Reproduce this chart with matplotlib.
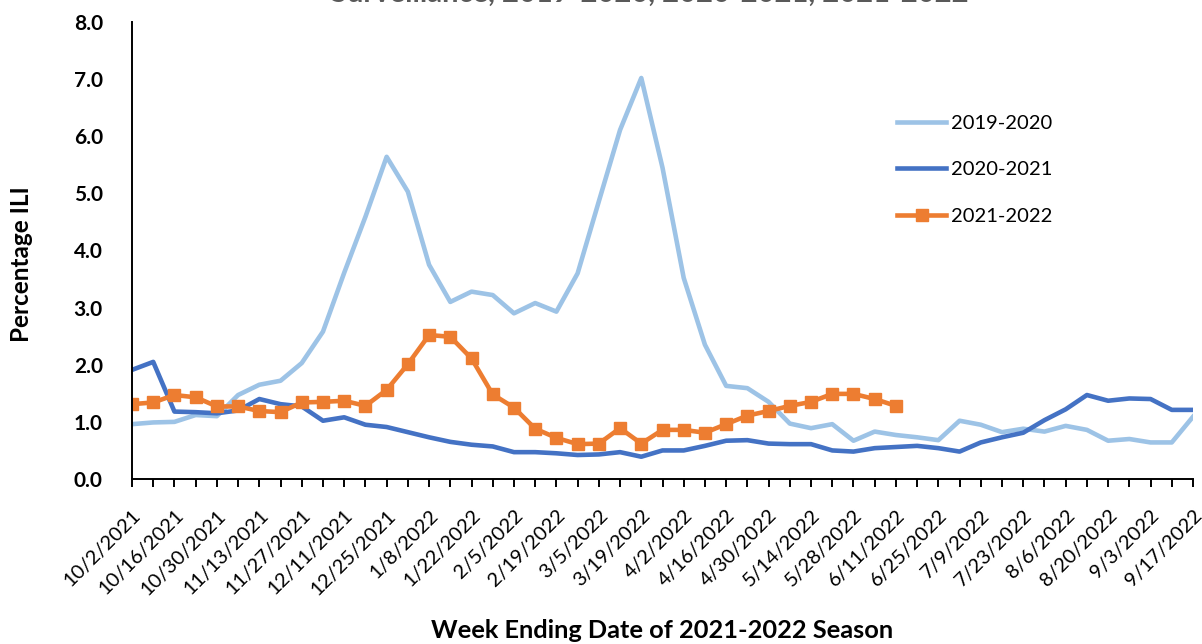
import matplotlib
matplotlib.use("Agg")
import matplotlib.pyplot as plt

plt.rcParams['font.family'] = ['Lato', 'DejaVu Sans']

# labelled week-ending dates (every second week)
date_labels = ["10/2/2021", "10/16/2021", "10/30/2021", "11/13/2021", "11/27/2021",
               "12/11/2021", "12/25/2021", "1/8/2022", "1/22/2022", "2/5/2022",
               "2/19/2022", "3/5/2022", "3/19/2022", "4/2/2022", "4/16/2022",
               "4/30/2022", "5/14/2022", "5/28/2022", "6/11/2022", "6/25/2022",
               "7/9/2022", "7/23/2022", "8/6/2022", "8/20/2022", "9/3/2022", "9/17/2022"]

ili_2019_20 = [0.96, 0.99, 1.00, 1.12, 1.10, 1.47, 1.65, 1.72, 2.03, 2.58,
               3.61, 4.59, 5.64, 5.03, 3.75, 3.10, 3.28, 3.22, 2.90, 3.08,
               2.93, 3.60, 4.86, 6.11, 7.02, 5.45, 3.52, 2.35, 1.63, 1.59,
               1.35, 0.97, 0.89, 0.96, 0.67, 0.83, 0.77, 0.73, 0.68, 1.02,
               0.95, 0.82, 0.88, 0.83, 0.93, 0.86, 0.67, 0.70, 0.64, 0.64,
               1.09]

ili_2020_21 = [1.91, 2.05, 1.18, 1.17, 1.15, 1.20, 1.40, 1.31, 1.27, 1.02,
               1.08, 0.95, 0.91, 0.82, 0.73, 0.65, 0.60, 0.57, 0.47, 0.47,
               0.45, 0.42, 0.43, 0.47, 0.39, 0.50, 0.50, 0.58, 0.67, 0.68,
               0.62, 0.61, 0.61, 0.50, 0.48, 0.54, 0.56, 0.58, 0.54, 0.48,
               0.64, 0.73, 0.81, 1.03, 1.22, 1.47, 1.37, 1.41, 1.40, 1.21,
               1.21]

ili_2021_22 = [1.31, 1.34, 1.47, 1.43, 1.27, 1.27, 1.19, 1.17, 1.34, 1.35,
               1.37, 1.28, 1.56, 2.01, 2.52, 2.49, 2.11, 1.48, 1.25, 0.88,
               0.72, 0.61, 0.62, 0.89, 0.62, 0.86, 0.86, 0.81, 0.96, 1.11,
               1.19, 1.28, 1.35, 1.49, 1.49, 1.40, 1.28]

series_names = ["2019-2020", "2020-2021", "2021-2022"]

W, H = 1202, 644
fig = plt.figure(figsize=(W / 100, H / 100), dpi=100)
ax = fig.add_axes([132 / W, 1 - 479 / H, (1193 - 132) / W, (479 - 22) / H])

weeks = list(range(len(ili_2019_20)))
ax.plot(weeks, ili_2019_20, color='#9DC3E6', lw=3.3, label=series_names[0])
ax.plot(weeks, ili_2020_21, color='#4472C4', lw=3.3, label=series_names[1])
ax.plot(list(range(len(ili_2021_22))), ili_2021_22, color='#ED7D31', lw=3.3,
        marker='s', markersize=8, label=series_names[2])

ax.set_xlim(0, len(weeks) - 1)
ax.set_ylim(0, 8)

# weekly ticks, labels every second week
ax.set_xticks(weeks)
xt = [''] * len(weeks)
for k, lab in enumerate(date_labels):
    xt[2 * k] = lab
ax.set_xticklabels(xt, rotation=45, ha='right', va='top', rotation_mode='anchor', fontsize=14.5)
ax.tick_params(axis='x', direction='out', length=6, width=1.4, pad=14)

ax.set_yticks(range(0, 9))
ax.set_yticklabels([f"{v:.1f}" for v in range(0, 9)], fontsize=15, fontweight='bold')
ax.tick_params(axis='y', length=0, pad=21)

for s in ['top', 'right']:
    ax.spines[s].set_visible(False)
for s in ['left', 'bottom']:
    ax.spines[s].set_linewidth(1.4)
    ax.spines[s].set_color('black')

ax.set_ylabel("Percentage ILI", fontsize=17.5, fontweight='bold')
ax.yaxis.set_label_coords(33 / W, 1 - 264 / H, transform=fig.transFigure)
fig.text(662 / W, 1 - 638 / H, "Week Ending Date of 2021-2022 Season",
         ha='center', va='baseline', fontsize=18.3, fontweight='bold')

# title, mostly cut off by the top edge
fig.text(650 / W, 1 - 1.5 / H, "Surveillance, 2019-2020, 2020-2021, 2021-2022",
         ha='center', va='baseline', fontsize=21, fontweight='bold', color='#595959')

ax.legend(loc='upper left', bbox_to_anchor=(897 / W, 1 - 115 / H), bbox_transform=fig.transFigure,
          frameon=False, fontsize=14.5, handlelength=2.45, handletextpad=0.25,
          labelspacing=1.45, borderpad=0, borderaxespad=0)

fig.savefig("out.png", dpi=100)
